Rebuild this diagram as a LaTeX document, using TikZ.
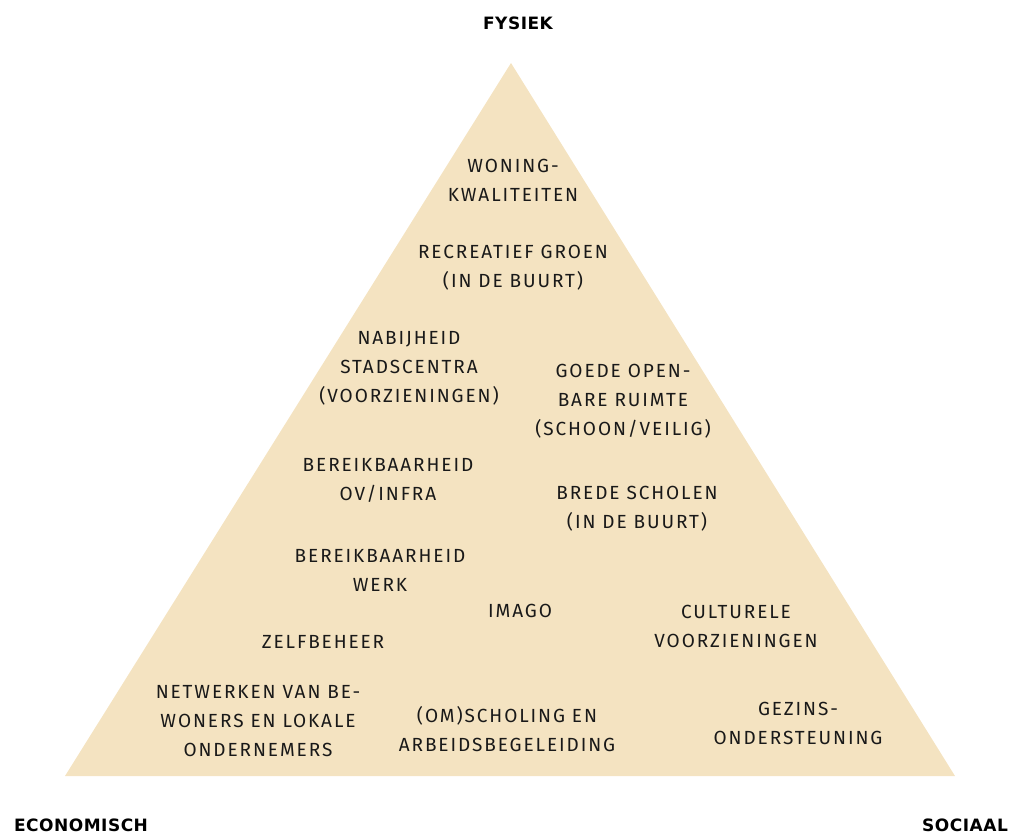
\documentclass[tikz,border=0pt]{standalone}
\usepackage{fontspec}
\setmainfont{Fira Sans}[LetterSpace=10]
\newfontfamily\labelfont{DejaVu Sans}[LetterSpace=3]
\definecolor{pyr}{RGB}{244,227,193}
\tikzset{
  item/.style={align=center,font=\fontsize{19}{29}\selectfont,text=black!90,inner sep=0pt},
  corner/.style={font=\labelfont\bfseries\fontsize{17}{19}\selectfont,inner sep=0pt}
}
\begin{document}
\begin{tikzpicture}[x=1pt,y=1pt]
\useasboundingbox (0,0) rectangle (1010,-834);
\fill[pyr] (511,-63) coordinate (top) -- (955,-776) coordinate (br) -- (65,-776) coordinate (bl) -- cycle;
\node[corner] (fys) at (518,-23) {FYSIEK};
\node[corner] (eco) at (81,-825) {ECONOMISCH};
\node[corner] (soc) at (965,-825) {SOCIAAL};
\node[item] (n1) at (513,-180) {WONING-\\KWALITEITEN};
\node[item] (n2) at (513,-268) {RECREATIEF GROEN\\(IN DE BUURT)};
\node[item] (n3) at (409,-368) {NABIJHEID\\STADSCENTRA\\(VOORZIENINGEN)};
\node[item] (n4) at (623,-401) {GOEDE OPEN-\\BARE RUIMTE\\(SCHOON/VEILIG)};
\node[item] (n5) at (388,-480) {BEREIKBAARHEID\\OV/INFRA};
\node[item] (n6) at (637,-509) {BREDE SCHOLEN\\(IN DE BUURT)};
\node[item] (n7) at (380,-570) {BEREIKBAARHEID\\WERK};
\node[item] (n8) at (520,-611) {IMAGO};
\node[item] (n9) at (736,-626) {CULTURELE\\VOORZIENINGEN};
\node[item] (n10) at (323,-642) {ZELFBEHEER};
\node[item] (n11) at (258,-721) {NETWERKEN VAN BE-\\WONERS EN LOKALE\\ONDERNEMERS};
\node[item] (n12) at (507,-729) {(OM)SCHOLING EN\\ARBEIDSBEGELEIDING};
\node[item] (n13) at (798,-723) {GEZINS-\\ONDERSTEUNING};
\end{tikzpicture}
\end{document}
